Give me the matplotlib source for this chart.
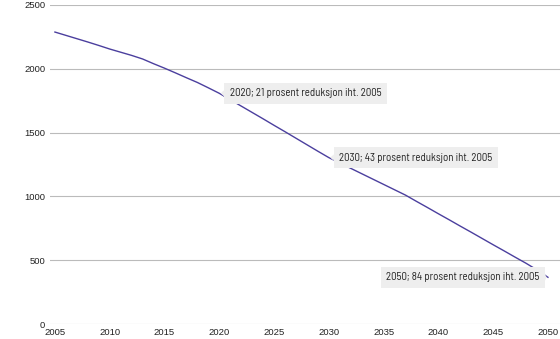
import matplotlib
matplotlib.use("Agg")
import matplotlib.pyplot as plt

# utslipp, aarlige verdier lest av figuren
years = list(range(2005, 2051))
values = [2288, 2262, 2236, 2210, 2183, 2155, 2130, 2105, 2077, 2040,
          2005, 1968, 1930, 1893, 1851, 1808, 1758, 1708, 1658, 1608,
          1557, 1507, 1456, 1405, 1354, 1304, 1262, 1220, 1178, 1136,
          1094, 1052, 1010, 961, 913, 864, 816, 767, 719, 670,
          621, 573, 524, 476, 424, 366]

notes_year = [2020, 2030, 2050]
notes_text = ["2020; 21 prosent reduksjon iht. 2005",
              "2030; 43 prosent reduksjon iht. 2005",
              "2050; 84 prosent reduksjon iht. 2005"]

xticks = list(range(2005, 2051, 5))
yticks = [0, 500, 1000, 1500, 2000, 2500]

plt.rcParams['font.family'] = ['Liberation Sans', 'DejaVu Sans']

fig = plt.figure(figsize=(5.6, 3.39), dpi=100)
ax = fig.add_axes([50/560, 15/339, 1 - 50/560, 319/339])

ax.plot(years, values, color='#4b3f9e', lw=1.0, zorder=2)

ax.set_xlim(2004.55, 2051.1)
ax.set_ylim(0, 2500)
ax.set_xticks(xticks)
ax.set_yticks(yticks)
ax.grid(axis='y', color='#bbbbbb', lw=0.8)
ax.set_axisbelow(True)
for s in ax.spines.values():
    s.set_visible(False)
ax.tick_params(length=0, labelsize=6.8, colors='#222222', pad=3)
ax.tick_params(axis='y', pad=3.5)

for yr, txt in zip(notes_year, notes_text):
    v = values[years.index(yr)]
    if yr == 2050:
        off, ha = (-6, 0), 'right'
    else:
        off, ha = (7.5, 0), 'left'
    ax.annotate(txt, xy=(yr, v), xytext=off, textcoords='offset points',
                ha=ha, va='center', fontsize=7.8, color='#222222', zorder=3,
                family=['Barlow Semi Condensed', 'DejaVu Sans'],
                bbox=dict(boxstyle='square,pad=0.5', fc='#eeeeee', ec='none'),
                arrowprops=dict(arrowstyle='wedge,tail_width=0.6,shrink_factor=0.5',
                                fc='#eeeeee', ec='none', shrinkA=0, shrinkB=1))

fig.savefig('out.png', dpi=100)
